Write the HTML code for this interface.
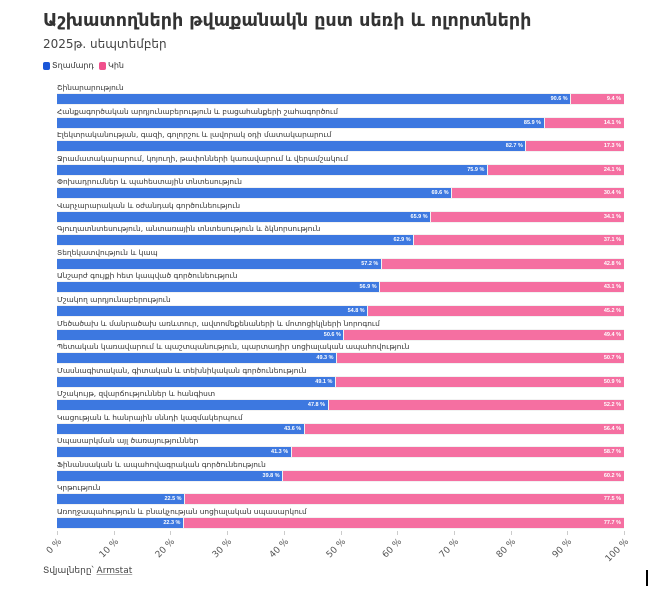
<!DOCTYPE html>
<html><head><meta charset="utf-8"><style>
body{margin:0;width:663px;height:597px;background:#fff;position:relative;font-family:"DejaVu Sans","Liberation Sans",sans-serif;color:#333;overflow:hidden}
.a{position:absolute;white-space:nowrap}
.lab{font-size:7.4px;color:#333}
.b{position:absolute;height:10px;background:#3d78e0}
.p{position:absolute;height:10px;background:#f56fa1}
.v{position:absolute;font-size:5.5px;font-weight:bold;color:#fff;line-height:10px;font-family:"Liberation Sans",sans-serif}
.t{position:absolute;top:531px;width:1px;height:4px;background:#ccc}
.tl{position:absolute;font-size:9px;color:#555;transform:rotate(-45deg);transform-origin:right top;text-align:right;width:40px}
</style></head><body>
<div class="a" style="left:43px;top:11px;font-size:17.5px;font-weight:bold;color:#333">Աշխատողների թվաքանակն ըստ սեռի և ոլորտների</div>
<div class="a" style="left:43px;top:37px;font-size:12px;color:#444">2025թ. սեպտեմբեր</div>
<div class="a" style="left:43px;top:62px;width:7px;height:8px;background:#1a56d8;border-radius:2px"></div>
<div class="a" style="left:52px;top:61px;font-size:8px">Տղամարդ</div>
<div class="a" style="left:99px;top:62px;width:7px;height:8px;background:#f0508c;border-radius:2px"></div>
<div class="a" style="left:108px;top:61px;font-size:8px">Կին</div>
<div id="c"></div>
<div class="a" style="left:43px;top:566px;font-size:9px;color:#444">Տվյալները՝ <span style="text-decoration:underline;text-decoration-color:#aaa">Armstat</span></div>
<div class="a" style="left:646px;top:570px;width:2px;height:16px;background:#000"></div>
<script>
var d=[["Շինարարություն",90.6],["Հանքագործական արդյունաբերություն և բացահանքերի շահագործում",85.9],["Էլեկտրականության, գազի, գոլորշու և լավորակ օդի մատակարարում",82.7],["Ջրամատակարարում, կոյուղի, թափոնների կառավարում և վերամշակում",75.9],["Փոխադրումներ և պահեստային տնտեսություն",69.6],["Վարչարարական և օժանդակ գործունեություն",65.9],["Գյուղատնտեսություն, անտառային տնտեսություն և ձկնորսություն",62.9],["Տեղեկատվություն և կապ",57.2],["Անշարժ գույքի հետ կապված գործունեություն",56.9],["Մշակող արդյունաբերություն",54.8],["Մեծածախ և մանրածախ առևտուր, ավտոմեքենաների և մոտոցիկլների նորոգում",50.6],["Պետական կառավարում և պաշտպանություն, պարտադիր սոցիալական ապահովություն",49.3],["Մասնագիտական, գիտական և տեխնիկական գործունեություն",49.1],["Մշակույթ, զվարճություններ և հանգիստ",47.8],["Կացության և հանրային սննդի կազմակերպում",43.6],["Սպասարկման այլ ծառայություններ",41.3],["Ֆինանսական և ապահովագրական գործունեություն",39.8],["Կրթություն",22.5],["Առողջապահություն և բնակչության սոցիալական սպասարկում",22.3]];
var x0=57,W=567,h="";
d.forEach(function(r,i){var y=94+i*23.55,m=r[1],f=(100-m).toFixed(1),bw=W*m/100;
h+='<div class="a lab" style="left:57px;top:'+(y-11)+'px">'+r[0]+'</div>';
h+='<div class="a" style="left:57px;top:'+(y-1)+'px;width:567px;height:12px;background:#f2f2f2"></div>';
h+='<div class="b" style="left:57px;top:'+y+'px;width:'+(bw-0.5)+'px"></div>';
h+='<div class="p" style="left:'+(57+bw+0.5)+'px;top:'+y+'px;width:'+(W-bw-0.5)+'px"></div>';
h+='<div class="v" style="left:'+(57+bw-31)+'px;top:'+y+'px;width:28px;text-align:right">'+m.toFixed(1)+' %</div>';
h+='<div class="v" style="left:'+(624-31)+'px;top:'+y+'px;width:28px;text-align:right">'+f+' %</div>';});
for(var k=0;k<=10;k++){var x=57+W*k/10;h+='<div class="t" style="left:'+x+'px"></div>';
h+='<div class="tl" style="left:'+(x-40)+'px;top:537px">'+(k*10)+' %</div>';}
document.getElementById('c').innerHTML=h;
</script>
</body></html>
